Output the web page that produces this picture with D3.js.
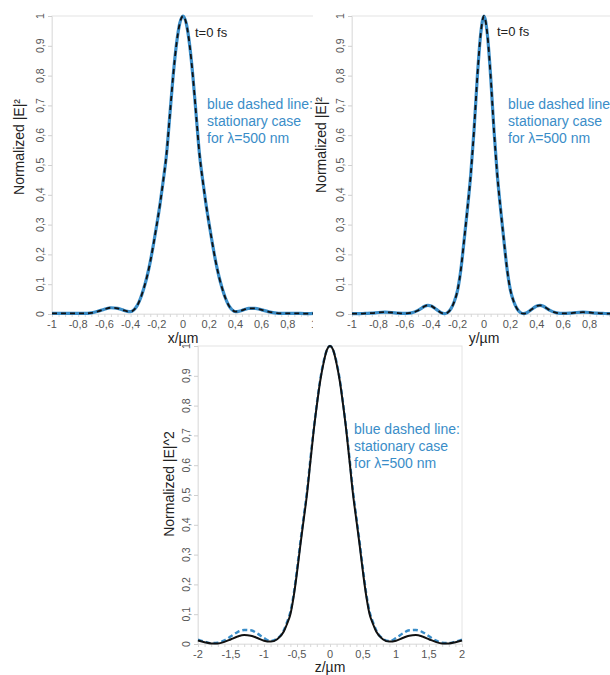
<!DOCTYPE html>
<html>
<head>
<meta charset="utf-8">
<script src="https://cdn.jsdelivr.net/npm/d3@7"></script>
<style>
  html, body { margin: 0; padding: 0; background: #fff; }
  svg { display: block; font-family: 'Liberation Sans', Arial, sans-serif; }
</style>
</head>
<body>
<div id="chart"></div>
<script>
// ---- data ----
const yTickValues = [0, 0.1, 0.2, 0.3, 0.4, 0.5, 0.6, 0.7, 0.8, 0.9, 1];
const yTickLabels = ['0', '0,1', '0,2', '0,3', '0,4', '0,5', '0,6', '0,7', '0,8', '0,9', '1'];

const xyTickValues = [-1, -0.8, -0.6, -0.4, -0.2, 0, 0.2, 0.4, 0.6, 0.8, 1];
const xyTickLabels = ['-1', '-0,8', '-0,6', '-0,4', '-0,2', '0', '0,2', '0,4', '0,6', '0,8', '1'];
const zTickValues = [-2, -1.5, -1, -0.5, 0, 0.5, 1, 1.5, 2];
const zTickLabels = ['-2', '-1,5', '-1', '-0,5', '0', '0,5', '1', '1,5', '2'];

// transverse positions (µm), shared by x and y profiles
const posXY = [
  -1, -0.95, -0.9, -0.85, -0.8, -0.75, -0.7, -0.65, -0.6, -0.55, -0.5,
  -0.475, -0.45, -0.425, -0.4, -0.375, -0.35, -0.325, -0.3, -0.275, -0.25,
  -0.225, -0.2, -0.175, -0.15, -0.125, -0.1, -0.075, -0.05, -0.025, 0,
  0.025, 0.05, 0.075, 0.1, 0.125, 0.15, 0.175, 0.2, 0.225, 0.25,
  0.275, 0.3, 0.325, 0.35, 0.375, 0.4, 0.425, 0.45, 0.475,
  0.5, 0.55, 0.6, 0.65, 0.7, 0.75, 0.8, 0.85, 0.9, 0.95, 1
];

// x profile, t=0 fs
const xPulse = [
  0.002, 0.002, 0.002, 0.002, 0.002, 0.002, 0.004, 0.009, 0.016, 0.021, 0.019,
  0.016, 0.012, 0.009, 0.008, 0.014, 0.028, 0.052, 0.085, 0.125, 0.175,
  0.235, 0.3, 0.37, 0.45, 0.54, 0.67, 0.8, 0.905, 0.975, 1,
  0.975, 0.905, 0.8, 0.67, 0.54, 0.45, 0.37, 0.3, 0.235, 0.175,
  0.125, 0.085, 0.052, 0.028, 0.014, 0.008, 0.009, 0.012, 0.016,
  0.019, 0.019, 0.014, 0.008, 0.004, 0.002, 0.002, 0.002, 0.002, 0.001, 0.002
];
// stationary case coincides with the pulse at this scale
const xStationary = xPulse;

// y profile, t=0 fs
const yPulse = [
  0.001, 0.001, 0.002, 0.003, 0.005, 0.006, 0.005, 0.003, 0.002, 0.004, 0.012,
  0.019, 0.026, 0.029, 0.027, 0.02, 0.012, 0.004, 0.001, 0.005, 0.018,
  0.042, 0.08, 0.15, 0.25, 0.355, 0.47, 0.62, 0.8, 0.94, 1,
  0.94, 0.8, 0.62, 0.47, 0.355, 0.25, 0.15, 0.08, 0.042, 0.018,
  0.005, 0.001, 0.004, 0.012, 0.02, 0.027, 0.029, 0.026, 0.019,
  0.012, 0.004, 0.002, 0.003, 0.005, 0.006, 0.005, 0.003, 0.002, 0.001, 0.001
];
const yStationary = yPulse;

// axial positions (µm)
const posZ = [
  -2, -1.9, -1.8, -1.7, -1.6, -1.5, -1.4, -1.3, -1.2, -1.1, -1, -0.9, -0.8, -0.7,
  -0.65, -0.6, -0.55, -0.5, -0.45, -0.4, -0.35, -0.3, -0.25, -0.2, -0.15, -0.1, -0.05,
  0,
  0.05, 0.1, 0.15, 0.2, 0.25, 0.3, 0.35, 0.4, 0.45, 0.5, 0.55, 0.6, 0.65,
  0.7, 0.8, 0.9, 1, 1.1, 1.2, 1.3, 1.4, 1.5, 1.6, 1.7, 1.8, 1.9, 2
];
const zPulse = [
  0.012, 0.006, 0.002, 0.002, 0.007, 0.016, 0.025, 0.03, 0.028, 0.02, 0.011, 0.008, 0.016, 0.042,
  0.068, 0.1, 0.16, 0.24, 0.33, 0.415, 0.5, 0.605, 0.71, 0.8, 0.88, 0.94, 0.985,
  1,
  0.985, 0.94, 0.88, 0.8, 0.71, 0.605, 0.5, 0.415, 0.33, 0.24, 0.16, 0.1, 0.068,
  0.042, 0.016, 0.008, 0.011, 0.02, 0.028, 0.03, 0.025, 0.016, 0.007, 0.002, 0.002, 0.006, 0.012
];
const zStationary = [
  0.015, 0.008, 0.003, 0.004, 0.012, 0.026, 0.04, 0.047, 0.046, 0.035, 0.02, 0.01, 0.018, 0.046,
  0.074, 0.108, 0.168, 0.25, 0.34, 0.425, 0.51, 0.615, 0.715, 0.805, 0.885, 0.945, 0.985,
  1,
  0.985, 0.945, 0.885, 0.805, 0.715, 0.615, 0.51, 0.425, 0.34, 0.25, 0.168, 0.108, 0.074,
  0.046, 0.018, 0.01, 0.02, 0.035, 0.046, 0.047, 0.04, 0.026, 0.012, 0.004, 0.003, 0.008, 0.015
];

const blue = '#3a8dc8';
const tickGrey = '#555';
const frameGrey = '#e4e4e4';
const pageW = 610;

const svg = d3.select('#chart').append('svg')
  .attr('width', pageW).attr('height', 675);
svg.append('rect').attr('width', pageW).attr('height', 675).attr('fill', '#fff');

function drawPanel(p) {
  const g = svg.append('g');
  if (p.bg) {
    g.append('rect').attr('x', p.bg[0]).attr('y', p.bg[1])
      .attr('width', p.bg[2]).attr('height', p.bg[3]).attr('fill', '#fff');
  }

  const x = d3.scaleLinear().domain(p.domain).range([p.left, p.right]);
  const y = d3.scaleLinear().domain([0, 1]).range([p.bottom, p.top]);

  // light frame
  g.append('rect')
    .attr('x', p.left).attr('y', p.top)
    .attr('width', p.right - p.left).attr('height', p.bottom - p.top)
    .attr('fill', 'none').attr('stroke', frameGrey);

  // y axis (ticks only, labels rotated below)
  g.append('g')
    .attr('transform', `translate(${p.left},0)`)
    .call(d3.axisLeft(y).tickValues(yTickValues).tickSize(4).tickFormat(''))
    .call(a => a.select('.domain').attr('stroke', frameGrey))
    .call(a => a.selectAll('.tick line').attr('stroke', '#cfcfcf'));

  g.selectAll('.ylab')
    .data(yTickValues)
    .enter().append('text')
    .attr('transform', d => `translate(${p.left - 12},${y(d)}) rotate(-90)`)
    .attr('text-anchor', 'middle')
    .attr('dy', '0.35em')
    .attr('font-size', '10.5px')
    .attr('fill', tickGrey)
    .text((d, i) => yTickLabels[i]);

  // x axis along y=0
  g.append('g')
    .attr('transform', `translate(0,${p.bottom})`)
    .call(d3.axisBottom(x).ticks(p.minorTicks).tickSize(3).tickFormat(''))
    .call(a => a.select('.domain').attr('stroke', frameGrey))
    .call(a => a.selectAll('.tick line').attr('stroke', '#d8d8d8'));

  // labels whose tick falls off the page are not drawn (as in the original crop)
  const shown = p.tickValues.map((v, i) => ({ v, label: p.tickLabels[i] }))
    .filter(d => x(d.v) < pageW - 3);

  g.selectAll('.xlab')
    .data(shown)
    .enter().append('text')
    .attr('x', d => x(d.v))
    .attr('y', p.bottom + 14)
    .attr('text-anchor', 'middle')
    .attr('font-size', '11px')
    .attr('fill', tickGrey)
    .text(d => d.label);

  // axis titles
  g.append('text')
    .attr('x', x(0)).attr('y', p.xTitleY)
    .attr('text-anchor', 'middle')
    .attr('font-size', '14px').attr('fill', '#222')
    .text(p.xTitle);

  g.append('text')
    .attr('transform', `translate(${p.yTitleX},${p.yTitleMid}) rotate(-90)`)
    .attr('text-anchor', 'middle')
    .attr('dy', '0.35em')
    .attr('font-size', '14px').attr('fill', '#222')
    .text(p.yTitle);

  const line = d3.line()
    .x((d, i) => x(p.pos[i]))
    .y(d => y(d))
    .curve(d3.curveMonotoneX);

  if (p.blueSolid) {
    // stationary curve under, pulse dashed on top
    g.append('path').datum(p.stationary).attr('d', line)
      .attr('fill', 'none').attr('stroke', blue).attr('stroke-width', 3.2);
    g.append('path').datum(p.pulse).attr('d', line)
      .attr('fill', 'none').attr('stroke', '#111').attr('stroke-width', 1.8)
      .attr('stroke-dasharray', '5,4');
  } else {
    g.append('path').datum(p.stationary).attr('d', line)
      .attr('fill', 'none').attr('stroke', blue).attr('stroke-width', 2.4)
      .attr('stroke-dasharray', '5,3');
    g.append('path').datum(p.pulse).attr('d', line)
      .attr('fill', 'none').attr('stroke', '#111').attr('stroke-width', 2);
  }

  // annotations
  if (p.tLabel) {
    g.append('text')
      .attr('x', p.tLabel[0]).attr('y', p.tLabel[1])
      .attr('font-size', '13px').attr('fill', '#222')
      .text('t=0 fs');
  }
  const note = g.append('text')
    .attr('x', p.note[0]).attr('y', p.note[1])
    .attr('font-size', '14px').attr('fill', blue);
  ['blue dashed line:', 'stationary case', 'for λ=500 nm'].forEach((s, i) => {
    note.append('tspan').attr('x', p.note[0]).attr('dy', i ? 16.8 : 0).text(s);
  });
}

drawPanel({
  left: 52, right: 314, top: 16, bottom: 314,
  domain: [-1, 1], minorTicks: 40,
  tickValues: xyTickValues, tickLabels: xyTickLabels,
  pos: posXY, pulse: xPulse, stationary: xStationary, blueSolid: true,
  xTitle: 'x/µm', xTitleY: 343,
  yTitle: 'Normalized |E|²', yTitleX: 19, yTitleMid: 147,
  tLabel: [195, 37], note: [207, 109]
});

drawPanel({
  bg: [313, 0, 297, 345],
  left: 352, right: 616, top: 16, bottom: 314,
  domain: [-1, 1], minorTicks: 40,
  tickValues: xyTickValues, tickLabels: xyTickLabels,
  pos: posXY, pulse: yPulse, stationary: yStationary, blueSolid: true,
  xTitle: 'y/µm', xTitleY: 343,
  yTitle: 'Normalized |E|²', yTitleX: 321, yTitleMid: 145,
  tLabel: [497, 36], note: [508, 109]
});

drawPanel({
  left: 198, right: 462, top: 346, bottom: 644,
  domain: [-2, 2], minorTicks: 40,
  tickValues: zTickValues, tickLabels: zTickLabels,
  pos: posZ, pulse: zPulse, stationary: zStationary, blueSolid: false,
  xTitle: 'z/µm', xTitleY: 672,
  yTitle: 'Normalized |E|^2', yTitleX: 169, yTitleMid: 484,
  tLabel: null, note: [354, 434]
});
</script>
</body>
</html>
